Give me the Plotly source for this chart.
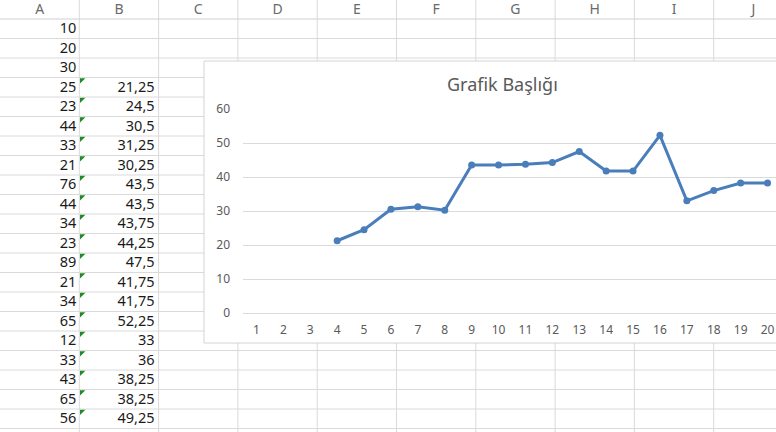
import plotly.graph_objects as go

# ---- data ----
col_letters = ["A", "B", "C", "D", "E", "F", "G", "H", "I", "J"]
col_a = [10, 20, 30, 25, 23, 44, 33, 21, 76, 44, 34, 23, 89, 21, 34, 65, 12, 33, 43, 65, 56]
col_b = [None, None, None, 21.25, 24.5, 30.5, 31.25, 30.25, 43.5, 43.5, 43.75,
         44.25, 47.5, 41.75, 41.75, 52.25, 33, 36, 38.25, 38.25, 49.25]
chart_categories = list(range(1, 21))
chart_title = "Grafik Başlığı"
y_ticks = [0, 10, 20, 30, 40, 50, 60]

# ---- layout constants (pixels) ----
W, H = 776, 432
COLW = 79.3
ROWH = 19.5
HEAD = 19.0
BOX_L, BOX_T, BOX_B = 204, 61, 343
PLOT_L, PLOT_R = 243, 776
CAT_W = 26.9
Y0_PX, Y60_PX = 313, 109
GRID = "#dadada"
TXT = "#595959"


def fmt(v):
    return f"{v:g}".replace(".", ",")


def px_x(x):
    return x / W


def px_y(y):
    return (H - y) / H


fig = go.Figure()

# spreadsheet: column headers
fig.add_trace(go.Scatter(
    x=[(i + 0.5) * COLW for i in range(len(col_letters))],
    y=[HEAD / 2 + 0.5] * len(col_letters),
    text=col_letters, mode="text", textposition="middle center",
    textfont=dict(family="Noto Sans", size=14, color="#6a6a6a"),
    hoverinfo="skip", showlegend=False, cliponaxis=False, xaxis="x", yaxis="y"))

# column A
fig.add_trace(go.Scatter(
    x=[COLW - 3] * len(col_a),
    y=[HEAD + (k + 0.5) * ROWH + 1 for k in range(len(col_a))],
    text=[fmt(v) for v in col_a], mode="text", textposition="middle left",
    textfont=dict(family="Noto Sans", size=14.5, color="#1a1a1a"),
    hoverinfo="skip", showlegend=False, cliponaxis=False, xaxis="x", yaxis="y"))

# column B
b_rows = [k for k, v in enumerate(col_b) if v is not None]
fig.add_trace(go.Scatter(
    x=[2 * COLW - 4] * len(b_rows),
    y=[HEAD + (k + 0.5) * ROWH + 1 for k in b_rows],
    text=[fmt(col_b[k]) for k in b_rows], mode="text", textposition="middle left",
    textfont=dict(family="Noto Sans", size=14.5, color="#1a1a1a"),
    hoverinfo="skip", showlegend=False, cliponaxis=False, xaxis="x", yaxis="y"))

# green "number stored as text" indicators
fig.add_trace(go.Scatter(
    x=[COLW + 2.5] * len(b_rows),
    y=[HEAD + k * ROWH + 2.5 for k in b_rows],
    mode="markers",
    marker=dict(symbol="triangle-nw", size=6, color="#1f8a2a", line=dict(width=0)),
    hoverinfo="skip", showlegend=False, xaxis="x", yaxis="y"))

# chart series (rows 1..20 of column B)
fig.add_trace(go.Scatter(
    x=chart_categories, y=col_b[:len(chart_categories)],
    mode="lines+markers",
    line=dict(color="#4A7EBB", width=3),
    marker=dict(size=7, color="#4A7EBB"),
    showlegend=False, cliponaxis=False, xaxis="x2", yaxis="y2"))

# spreadsheet grid lines as shapes (below everything)
shapes = []
n_rows = len(col_a)
for i in range(1, len(col_letters)):
    x = i * COLW
    if BOX_L < x:
        segs = [(0, BOX_T), (BOX_B, H)]
    else:
        segs = [(0, H)]
    for (ya, yb) in segs:
        shapes.append(dict(type="line", xref="paper", yref="paper",
                           x0=px_x(x), x1=px_x(x), y0=px_y(ya), y1=px_y(yb),
                           line=dict(color=GRID, width=1), layer="below"))
for k in range(n_rows + 1):
    y = HEAD + k * ROWH
    shapes.append(dict(type="line", xref="paper", yref="paper",
                       x0=0, x1=1, y0=px_y(y), y1=px_y(y),
                       line=dict(color="#d0d0d0" if k == 0 else GRID, width=1),
                       layer="below"))
# chart area box
shapes.append(dict(type="rect", xref="paper", yref="paper",
                   x0=px_x(BOX_L), x1=1.02, y0=px_y(BOX_B), y1=px_y(BOX_T),
                   fillcolor="white", line=dict(color="#d4d4d4", width=1),
                   layer="below"))

fig.update_layout(
    width=W, height=H, autosize=False,
    margin=dict(l=0, r=0, t=0, b=0, pad=0, autoexpand=False),
    paper_bgcolor="white", plot_bgcolor="rgba(0,0,0,0)",
    shapes=shapes,
    xaxis=dict(domain=[0, 1], range=[0, W], visible=False, fixedrange=True,
               automargin=False),
    yaxis=dict(domain=[0, 1], range=[H, 0], visible=False, fixedrange=True,
               automargin=False),
    xaxis2=dict(domain=[px_x(PLOT_L), 1],
                range=[0.5, 0.5 + (PLOT_R - PLOT_L) / CAT_W],
                anchor="y2", tickmode="array", tickvals=chart_categories,
                ticktext=[str(c) for c in chart_categories],
                showgrid=False, zeroline=False, showline=True, linecolor=GRID,
                ticks="", ticklabelstandoff=6, automargin=False,
                tickfont=dict(family="Noto Sans", size=12, color=TXT),
                fixedrange=True),
    yaxis2=dict(domain=[px_y(Y0_PX), px_y(Y60_PX)], range=[0, 60],
                anchor="x2", tickmode="array", tickvals=y_ticks,
                showgrid=True, gridcolor=GRID, gridwidth=1, zeroline=False,
                showline=False, ticks="", ticklabelstandoff=12, automargin=False,
                tickfont=dict(family="Noto Sans", size=12, color=TXT),
                fixedrange=True),
    annotations=[dict(text=chart_title, xref="paper", yref="paper",
                      x=px_x(502), y=px_y(84), xanchor="center", yanchor="middle",
                      showarrow=False,
                      font=dict(family="Noto Sans", size=18, color=TXT))],
)

fig.write_html("out.html", config={"displayModeBar": False},
               post_script="document.body.style.margin='0';document.body.style.padding='0';")
